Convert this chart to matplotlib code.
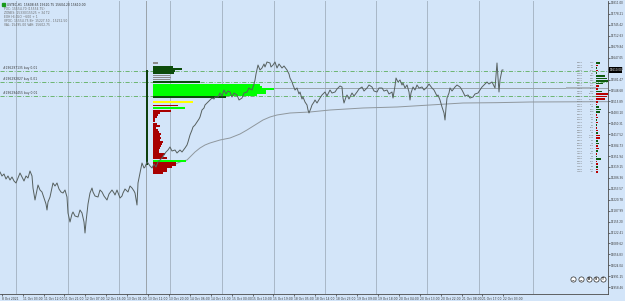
import matplotlib
matplotlib.use('Agg')
import matplotlib.pyplot as plt
from matplotlib.patches import Rectangle
import numpy as np

BG = '#d3e5f9'
FS = 2.2

# ---------------- data ----------------
bar_x = [0, 2, 4, 6, 8, 10, 12, 14, 16, 18,
         20, 22, 24, 26, 28, 30, 32, 33, 35, 37,
         38, 40, 42, 44, 46, 47, 48, 50, 52, 53,
         55, 57, 59, 61, 63, 65, 67, 68, 70, 72,
         73, 75, 78, 80, 82, 84, 85, 86, 87, 88,
         90, 92, 93, 95, 98, 100, 102, 104, 107, 109,
         112, 114, 115, 117, 120, 122, 123, 125, 128, 130,
         132, 134, 135, 137, 138, 140, 142, 144, 145, 147,
         148, 150, 152, 154, 156, 158, 160, 162, 164, 166,
         168, 170, 172, 175, 177, 180, 182, 185, 187, 188,
         190, 192, 193, 195, 197, 199, 200, 202, 204, 205,
         207, 208, 210, 212, 214, 215, 218, 220, 222, 224,
         226, 228, 230, 232, 234, 237, 239, 242, 244, 247,
         249, 252, 254, 255, 256, 258, 260, 262, 264, 265,
         267, 270, 271, 273, 275, 277, 279, 282, 284, 287,
         289, 290, 292, 293, 295, 297, 299, 300, 302, 303,
         305, 307, 308, 309, 311, 312, 314, 315, 317, 320,
         322, 325, 327, 330, 332, 335, 337, 338, 340, 342,
         343, 344, 346, 347, 349, 352, 354, 357, 359, 362,
         364, 367, 369, 372, 374, 377, 379, 382, 384, 387,
         389, 392, 393, 395, 396, 398, 400, 402, 403, 405,
         407, 409, 410, 411, 413, 415, 417, 419, 422, 424,
         427, 429, 432, 434, 435, 437, 438, 440, 442, 444,
         445, 446, 447, 449, 450, 452, 455, 457, 460, 462,
         463, 465, 468, 470, 473, 475, 478, 480, 482, 484,
         487, 489, 492, 494, 495, 496, 497, 498, 499, 500,
         502, 503]
bar_close = [15304, 15292, 15298, 15283, 15292, 15280, 15289, 15277, 15271, 15286,
             15301, 15289, 15277, 15292, 15286, 15307, 15292, 15256, 15220, 15250,
             15265, 15250, 15244, 15226, 15208, 15190, 15214, 15229, 15256, 15271,
             15262, 15271, 15253, 15244, 15241, 15250, 15229, 15181, 15154, 15178,
             15184, 15172, 15169, 15190, 15181, 15154, 15121, 15154, 15181, 15208,
             15241, 15256, 15244, 15232, 15229, 15250, 15244, 15232, 15220, 15238,
             15250, 15241, 15235, 15250, 15226, 15232, 15241, 15253, 15244, 15262,
             15256, 15247, 15241, 15205, 15271, 15301, 15331, 15316, 15319, 15334,
             15331, 15322, 15316, 15328, 15319, 15334, 15340, 15346, 15355, 15364,
             15370, 15379, 15367, 15370, 15361, 15370, 15364, 15376, 15385, 15394,
             15415, 15430, 15439, 15445, 15454, 15463, 15469, 15490, 15496, 15505,
             15511, 15514, 15520, 15526, 15523, 15529, 15529, 15541, 15532, 15550,
             15538, 15547, 15544, 15529, 15541, 15535, 15520, 15526, 15541, 15544,
             15556, 15550, 15568, 15580, 15598, 15625, 15610, 15616, 15628, 15619,
             15634, 15631, 15619, 15625, 15634, 15616, 15628, 15616, 15622, 15610,
             15598, 15586, 15574, 15565, 15550, 15556, 15538, 15544, 15523, 15529,
             15514, 15505, 15490, 15481, 15496, 15505, 15514, 15520, 15511, 15526,
             15535, 15544, 15532, 15550, 15541, 15544, 15553, 15556, 15562, 15559,
             15526, 15511, 15529, 15535, 15523, 15541, 15532, 15544, 15553, 15559,
             15547, 15556, 15565, 15559, 15547, 15544, 15556, 15556, 15547, 15550,
             15538, 15544, 15526, 15562, 15586, 15574, 15580, 15565, 15571, 15556,
             15565, 15544, 15520, 15541, 15559, 15550, 15565, 15556, 15559, 15550,
             15559, 15568, 15556, 15550, 15544, 15532, 15535, 15520, 15499, 15481,
             15460, 15496, 15526, 15541, 15556, 15547, 15559, 15565, 15559, 15550,
             15544, 15532, 15535, 15526, 15529, 15538, 15541, 15550, 15559, 15565,
             15574, 15568, 15574, 15562, 15556, 15595, 15631, 15586, 15544, 15580,
             15610, 15610]

vwap_x = [158, 165, 173, 180, 187, 195, 200, 205, 210, 220, 230, 240, 247, 255,
          263, 270, 277, 290, 310, 330, 363, 397, 430, 463, 497, 530, 608]
vwap_y = [15307, 15316, 15325, 15334, 15340, 15364, 15376, 15385, 15391, 15400,
          15406, 15418, 15430, 15445, 15460, 15469, 15475, 15481, 15484, 15490,
          15496, 15499, 15505, 15511, 15512, 15514, 15515]

# left volume profile (starting at bar 153)
vp_start = 153
vp_level = [15632, 15620, 15614, 15608, 15602, 15594, 15588, 15582, 15574, 15566,
            15560, 15554, 15548, 15542, 15536, 15530, 15514, 15504, 15496, 15487,
            15481, 15475, 15469, 15463, 15457, 15448, 15442, 15436, 15430, 15424,
            15418, 15412, 15406, 15400, 15394, 15388, 15382, 15376, 15370, 15364,
            15358, 15352, 15346, 15338, 15331, 15325, 15319, 15313, 15307, 15301]
vp_volume = [4.5, 20, 29, 22, 21, 17, 18, 17, 47, 107,
             109, 121, 113, 113, 104, 73, 40, 25, 32, 18,
             7, 5, 3.5, 2, 2, 4, 7, 3, 4.5, 6,
             7.5, 7, 7.7, 7, 10, 9, 8, 7, 6, 5.5,
             12, 10, 13.7, 33, 23, 23, 19, 14, 13.7, 10]
vp_kind = ['g', 'd', 'd', 'd', 'd', 'g', 'g', 'g', 'd', 'b',
           'b', 'b', 'b', 'b', 'b', 'd', 'y', 'r', 'b', 'r',
           'r', 'r', 'r', 'r', 'r', 'r', 'r', 'r', 'r', 'r',
           'r', 'r', 'r', 'r', 'r', 'r', 'r', 'r', 'r', 'r',
           'r', 'r', 'r', 'b', 'r', 'r', 'r', 'r', 'r', 'r']
vp_colors = {'g': '#8c8c8c', 'd': '#0c4c0c', 'b': '#00ff00', 'y': '#ffff00', 'r': '#a80000'}

# order lines
order_levels = [15607, 15573, 15533]
order_labels = ['#196297135 buy 0.01', '#196292827 buy 0.01', '#196294455 buy 0.01']
poc_level = 15555

# right profile
rp_level = [15632, 15624, 15617, 15609, 15601, 15593, 15585, 15578, 15570, 15562,
            15554, 15546, 15539, 15531, 15523, 15515, 15507, 15500, 15492, 15484,
            15476, 15468, 15461, 15453, 15445, 15437, 15429, 15422, 15414, 15406,
            15398, 15390, 15383, 15375, 15367, 15359, 15351, 15344, 15336, 15328,
            15320, 15312, 15305]
rp_delta = [4, -1.5, 1, -2, 1, 9, 11, 12, 7, -3,
            -2, 6, -12, -11, -9, -2, -1, 3, 5, 3.5,
            -1, -1.5, 1, -1.5, 1, -1, -2, 2, -3.5, -4,
            2, 3, -2, -2.5, 2, -1, 1, 4.5, -1, -1.5,
            2, -2, -1.5]
rp_total = ['2815', '3410', '2967', '4102', '3388', '5120', '6034', '7215', '6540', '8121',
            '9480', '8733', '9102', '8650', '7480', '5230', '4390', '3915', '4120', '3360',
            '2890', '2740', '2510', '2330', '2460', '2610', '2820', '2950', '3120', '3340',
            '3010', '2870', '2650', '2580', '2440', '2390', '2710', '3150', '2930', '2760',
            '2480', '2320', '2150']
rp_diff = ['112', '-48', '35', '-62', '20', '284', '351', '402', '216', '-95',
           '-61', '188', '-395', '-360', '-301', '-58', '-27', '92', '154', '108',
           '-31', '-44', '22', '-40', '25', '-29', '-57', '61', '-108', '-121',
           '57', '94', '-63', '-77', '55', '-26', '30', '141', '-33', '-45',
           '60', '-58', '-41']

vsep_x = [16, 68, 119, 170, 222, 274, 325, 376, 427, 479, 533]
session_x = 146
profile_line_top, profile_line_bot = 15610, 15325

xtick_pos = [1.7, 22.6, 43.5, 64.4, 85.3, 106.2, 127.1, 148.0, 168.9, 189.8,
             210.7, 231.6, 252.5, 273.4, 294.3, 315.2, 336.1, 357.0, 377.9, 398.8,
             419.7, 440.6, 461.5, 482.4, 503.3]
xtick_lab = ['8 Oct 2021', '11 Oct 03:00', '11 Oct 12:00', '11 Oct 21:00', '12 Oct 07:00',
             '12 Oct 16:00', '13 Oct 01:00', '13 Oct 11:00', '13 Oct 20:00', '14 Oct 06:00',
             '14 Oct 15:00', '15 Oct 00:00', '15 Oct 10:00', '15 Oct 19:00', '18 Oct 05:00',
             '18 Oct 14:00', '18 Oct 23:00', '19 Oct 09:00', '19 Oct 18:00', '20 Oct 04:00',
             '20 Oct 13:00', '20 Oct 22:00', '21 Oct 08:00', '21 Oct 17:00', '22 Oct 03:00']

info_lines = ['USTEC,H1  15608.65 15610.75 15604.20 15610.00',
              'POC: 15554.70 (15554.75)',
              'ZONES: 15330/15525 + 34 T2',
              'EOH HI-OLO ~600 + 1',
              'VPOC: 15554.75 B+ 15227.50 - 15252.50',
              'VAL: 15495.00 VAH: 15602.75']

# ---------------- figure ----------------
fig = plt.figure(figsize=(6.25, 3.01), dpi=100, facecolor=BG)
ax = fig.add_axes([0, 7 / 301, 608 / 625, 293 / 301])
ax.set_facecolor(BG)
ax.set_xlim(0, 608)
ax.set_ylim(14938, 15817)

for x in vsep_x:
    ax.axvline(x, color='#6f7a86', lw=0.6, ls=(0, (1.2, 1.2)), zorder=1)
ax.axvline(session_x, color='#9aa2aa', lw=0.7, zorder=1)

for lv in order_levels:
    ax.axhline(lv, color='#5cae5c', lw=0.6, ls=(0, (5, 2, 1, 2)), zorder=2)
for lv, lb in zip(order_levels, order_labels):
    ax.text(3, lv + 3, lb, fontsize=FS, color='#3a3a3a', va='bottom', ha='left', zorder=6)

ax.plot([vp_start, 608], [poc_level, poc_level], color='#9aa3ac', lw=0.7, zorder=2)

# volume profile
ax.barh(vp_level, vp_volume, left=vp_start, height=5.0,
        color=[vp_colors[k] for k in vp_kind], linewidth=0, zorder=4)
ax.plot([session_x + 0.6, session_x + 0.6], [profile_line_bot, profile_line_top],
        color='#0a3d0a', lw=1.4, zorder=5, solid_capstyle='butt')

ax.plot(vwap_x, vwap_y, color='#8f979d', lw=0.7, zorder=3)
ax.plot(bar_x, bar_close, color='#56605f', lw=0.7, zorder=6)

# right profile
ax.add_patch(Rectangle((566, poc_level - 3), 30, 6, color='#aab4be', lw=0, zorder=3))
for lv, d, t1, t2 in zip(rp_level, rp_delta, rp_total, rp_diff):
    ax.text(583, lv, t1, fontsize=1.7, color='#707070', ha='right', va='center', zorder=6)
    ax.text(594, lv, t2, fontsize=1.7, color='#707070', ha='right', va='center', zorder=6)
rp_cols = ['#0e5a0e' if d > 0 else '#b80000' for d in rp_delta]
ax.barh(rp_level, [abs(d) for d in rp_delta], left=596, height=5.0,
        color=rp_cols, linewidth=0, zorder=4)

# axes styling
for s in ['left', 'top']:
    ax.spines[s].set_visible(False)
for s in ['right', 'bottom']:
    ax.spines[s].set_color('#4a4a4a')
    ax.spines[s].set_linewidth(0.6)
ax.yaxis.tick_right()
yt = np.arange(15811, 14945, -32.79)
ax.set_yticks(yt)
ax.set_yticklabels(['%.2f' % v for v in yt])
ax.set_xticks(xtick_pos)
ax.set_xticklabels(xtick_lab, ha='left')
ax.tick_params(axis='x', labelsize=FS, colors='#3a3a3a', length=1.5, width=0.5, pad=1)
ax.tick_params(axis='y', labelsize=2.0, colors='#3a3a3a', length=1.2, width=0.5, pad=0.6)

last = bar_close[-1]
ax.text(609.3, last, '%.2f' % last, fontsize=2.0, color='white', ha='left',
        va='center', clip_on=False, zorder=10,
        bbox=dict(boxstyle='square,pad=0.2', fc='black', ec='black', lw=0))

# buttons
btn_x = [573.3, 581, 588.7, 596, 603.3]
btn_t = ['−', '−', 'B', 'S', 'T']
for bx, bt in zip(btn_x, btn_t):
    ax.scatter([bx], [14983], s=14, facecolor='white', edgecolor='#2a2a2a',
               linewidths=0.5, zorder=8, clip_on=False)
    ax.text(bx, 14983, bt, fontsize=2.2, ha='center', va='center', color='#1a1a1a',
            zorder=9, fontweight='bold')

# info text
fig.patches.append(Rectangle((2 / 625, 1 - 6 / 301), 3 / 625, 3 / 301,
                             transform=fig.transFigure, color='#1a9a1a', zorder=10))
for i, line in enumerate(info_lines):
    y = 4.5 + i * 4.1
    fig.text((7 if i == 0 else 4) / 625, 1 - y / 301, line, fontsize=FS,
             color='#2a2a2a' if i == 0 else '#6a6a6a', va='center', ha='left')

fig.savefig('out.png', dpi=100, facecolor=BG)
